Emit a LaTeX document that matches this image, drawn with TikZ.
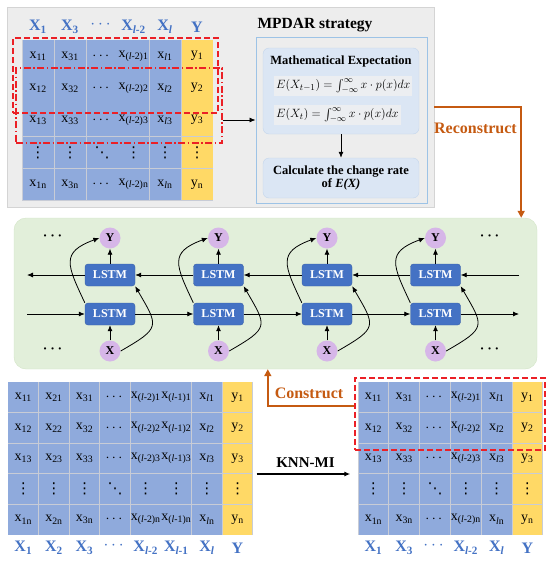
\documentclass[tikz,border=0pt]{standalone}
\usepackage{fontspec}
\setmainfont{Liberation Serif}
\newfontfamily\symfont{DejaVu Sans}
\usepackage{amsmath}
\usetikzlibrary{arrows.meta, positioning}
\definecolor{cellblue}{RGB}{143,170,220}
\definecolor{cellyellow}{RGB}{255,217,102}
\definecolor{headblue}{RGB}{68,114,196}
\definecolor{panelgray}{RGB}{237,237,237}
\definecolor{paneledge}{RGB}{212,212,212}
\definecolor{gridgray}{RGB}{200,204,214}
\definecolor{boxblue}{RGB}{157,195,230}
\definecolor{innerblue}{RGB}{219,230,244}
\definecolor{inneredge}{RGB}{196,214,236}
\definecolor{formbg}{RGB}{236,238,241}
\definecolor{lstmblue}{RGB}{68,114,196}
\definecolor{nodepurple}{RGB}{214,182,232}
\definecolor{greenfill}{RGB}{226,239,218}
\definecolor{greenedge}{RGB}{210,228,198}
\definecolor{orangeline}{RGB}{197,90,17}
\definecolor{markred}{RGB}{235,32,38}
\newcommand{\sub}[1]{\textsubscript{#1}}
\newcommand{\vdts}{{\symfont\fontsize{15}{16}\selectfont ⋮}}
\newcommand{\ddts}{{\symfont\fontsize{15}{16}\selectfont ⋱}}
\tikzset{
  cell/.style={inner sep=0, minimum width=31pt, minimum height=31.4pt,
    font=\fontsize{14}{16}\selectfont},
  lowcell/.style={minimum width=29.8pt, minimum height=29.8pt},
  xcell/.style={cell, fill=cellblue},
  ycell/.style={cell, fill=cellyellow},
  head/.style={text=headblue, font=\bfseries\fontsize{16}{18}\selectfont},
  blackarrow/.style={-{Latex[length=6pt,width=5pt]}, line width=0.8pt},
  orangearrow/.style={-{Triangle[length=7pt,width=7pt]}, line width=1.6pt, draw=orangeline},
  orangetext/.style={text=orangeline, font=\bfseries\fontsize{16}{18}\selectfont},
  redbox/.style={draw=markred, line width=1.3pt, inner sep=0},
  lstm/.style={fill=lstmblue, draw=lstmblue!85!black, rounded corners=3pt,
    minimum width=50pt, minimum height=22pt, inner sep=0,
    text=white, font=\bfseries\fontsize{12}{14}\selectfont},
  io/.style={circle, fill=nodepurple, minimum size=21pt, inner sep=0,
    font=\bfseries\fontsize{12}{14}\selectfont},
  dotsnode/.style={font=\fontsize{14}{16}\selectfont},
  innerbox/.style={fill=innerblue, draw=inneredge, rounded corners=6pt,
    minimum width=156pt, inner sep=0},
  formula/.style={fill=formbg, inner sep=2pt, anchor=west,
    font=\fontsize{12.5}{14}\selectfont}
}
\begin{document}
\begin{tikzpicture}[x=1pt, y=-1pt]
  \useasboundingbox (0,0) rectangle (550,562);

  % MPDAR panel
  \node[fill=panelgray, draw=paneledge, minimum width=427pt, minimum height=200pt,
    inner sep=0] (panel) at (220.5,107) {};
  \node[font=\bfseries\fontsize{15.5}{18}\selectfont] (mtitle) at (315,25) {MPDAR strategy};
  \node[draw=boxblue, line width=0.9pt, minimum width=171pt, minimum height=166pt,
    inner sep=0] (mpdar) at (341.5,120) {};
  \node[innerbox, minimum height=86pt] (expect) at (341,91) {};
  \node[font=\bfseries\fontsize{12.5}{14}\selectfont] (etitle) at (341,61) {Mathematical Expectation};
  \node[formula] (f1) at (274,86) {$E(X_{t-1}) = \int_{-\infty}^{\infty} x\cdot p(x)dx$};
  \node[formula] (f2) at (274,115) {$E(X_{t}) = \int_{-\infty}^{\infty} x\cdot p(x)dx$};
  \node[innerbox, minimum height=40pt, align=center,
    font=\bfseries\fontsize{12.5}{13.5}\selectfont] (rate) at (341,178)
    {Calculate the change rate\\of \textit{E(X)}};
  \draw[blackarrow] (expect) -- (rate);

  % top table
  \fill[gridgray] (22,40) rectangle (213,201);
  \node[head] (th1) at (38,27) {X\sub{1}};
  \node[head] (th2) at (70,27) {X\sub{3}};
  \node[head] (th3) at (102,25) {$\cdots$};
  \node[head] (th4) at (133.5,27) {X\sub{\textit{l}-2}};
  \node[head] (th5) at (165,27) {X\sub{\textit{l}}};
  \node[head] (th6) at (197,27) {Y};
  \foreach \r/\yy in {1/56,2/88,3/120,n/184.5}{
    \node[xcell] (t\r-1) at (38,\yy) {x\sub{1\r}};
    \node[xcell] (t\r-2) at (70,\yy) {x\sub{3\r}};
    \node[xcell] (t\r-3) at (102,\yy) {$\cdots$};
    \node[xcell] (t\r-4) at (133.5,\yy) {x\sub{(\textit{l}-2)\r}};
    \node[xcell] (t\r-5) at (165,\yy) {x\sub{\textit{l}\r}};
    \node[ycell] (t\r-6) at (197,\yy) {y\sub{\r}};
  }
  \foreach \c/\xx in {1/38,2/70,4/133.5,5/165}
    \node[xcell] (tv-\c) at (\xx,152.5) {\vdts};
  \node[xcell] (tv-3) at (102,152.5) {\ddts};
  \node[ycell] (tv-6) at (197,152.5) {\vdts};
  \node[redbox, dash pattern=on 6pt off 3pt, minimum width=205pt,
    minimum height=75pt] (tdash) at (115.5,75.5) {};
  \node[redbox, dash pattern=on 7pt off 2.5pt on 1.5pt off 2.5pt, minimum width=206pt,
    minimum height=75pt] (tdot) at (119,105.5) {};
  \draw[blackarrow] (tdot.east |- mpdar.west) -- (mpdar.west);

  % BiLSTM block
  \node[fill=greenfill, draw=greenedge, rounded corners=12pt, minimum width=523pt,
    minimum height=151pt, inner sep=0] (green) at (275.5,293.5) {};
  \draw[orangearrow] (panel.east) -| ([xshift=-16pt]green.north east);
  \node[orangetext] (rclabel) at (475.5,128) {Reconstruct};
  \coordinate (li) at (27,275);
  \coordinate (ri) at (519,275);
  \coordinate (lo) at (27,314);
  \coordinate (ro) at (519,314);
  \foreach \i/\xx in {1/110,2/218.5,3/327,4/435.5}{
    \node[lstm] (up\i) at (\xx,275) {LSTM};
    \node[lstm] (dn\i) at (\xx,314) {LSTM};
    \node[io] (y\i) at (\xx,238) {Y};
    \node[io] (x\i) at (\xx,351) {X};
    \draw[blackarrow] (x\i) -- (dn\i);
    \draw[blackarrow] (up\i) -- (y\i);
    \draw[blackarrow] (dn\i.north west) to[out=115, in=200, looseness=1.6] (y\i.west);
    \draw[blackarrow] (x\i.east) to[out=30, in=-60, looseness=1.8] (up\i.south east);
  }
  \draw[blackarrow] (lo) -- (dn1);
  \draw[blackarrow] (dn1) -- (dn2);
  \draw[blackarrow] (dn2) -- (dn3);
  \draw[blackarrow] (dn3) -- (dn4);
  \draw[blackarrow] (dn4) -- (ro);
  \draw[blackarrow] (ri) -- (up4);
  \draw[blackarrow] (up4) -- (up3);
  \draw[blackarrow] (up3) -- (up2);
  \draw[blackarrow] (up2) -- (up1);
  \draw[blackarrow] (up1) -- (li);
  \node[dotsnode] (d1) at (54,236) {$\boldsymbol{\cdots}$};
  \node[dotsnode] (d2) at (491,236) {$\boldsymbol{\cdots}$};
  \node[dotsnode] (d3) at (54,349) {$\boldsymbol{\cdots}$};
  \node[dotsnode] (d4) at (491,349) {$\boldsymbol{\cdots}$};

  % bottom left table
  \fill[gridgray] (8,382) rectangle (252.8,535);
  \foreach \r/\yy in {1/397.3,2/427.9,3/458.5,n/519.7}{
    \node[xcell, lowcell] (a\r-1) at (23.3,\yy) {x\sub{1\r}};
    \node[xcell, lowcell] (a\r-2) at (53.9,\yy) {x\sub{2\r}};
    \node[xcell, lowcell] (a\r-3) at (84.5,\yy) {x\sub{3\r}};
    \node[xcell, lowcell] (a\r-4) at (115.1,\yy) {$\cdots$};
    \node[xcell, lowcell] (a\r-5) at (145.7,\yy) {x\sub{(\textit{l}-2)\r}};
    \node[xcell, lowcell] (a\r-6) at (176.3,\yy) {x\sub{(\textit{l}-1)\r}};
    \node[xcell, lowcell] (a\r-7) at (206.9,\yy) {x\sub{\textit{l}\r}};
    \node[ycell, lowcell] (a\r-8) at (237.5,\yy) {y\sub{\r}};
  }
  \foreach \c/\xx in {1/23.3,2/53.9,3/84.5,5/145.7,6/176.3,7/206.9}
    \node[xcell, lowcell] (av-\c) at (\xx,489.1) {\vdts};
  \node[xcell, lowcell] (av-4) at (115.1,489.1) {\ddts};
  \node[ycell, lowcell] (av-8) at (237.5,489.1) {\vdts};
  \node[head] (ah1) at (23.3,548) {X\sub{1}};
  \node[head] (ah2) at (53.9,548) {X\sub{2}};
  \node[head] (ah3) at (84.5,548) {X\sub{3}};
  \node[head] (ah4) at (115.1,546) {$\cdots$};
  \node[head] (ah5) at (145.7,548) {X\sub{\textit{l}-2}};
  \node[head] (ah6) at (176.3,548) {X\sub{\textit{l}-1}};
  \node[head] (ah7) at (206.9,548) {X\sub{\textit{l}}};
  \node[head] (ah8) at (237.5,548) {Y};

  % bottom right table
  \fill[gridgray] (358,382) rectangle (542.8,535);
  \foreach \r/\yy in {1/397.3,2/427.9,3/458.5,n/519.7}{
    \node[xcell, lowcell] (b\r-1) at (373.4,\yy) {x\sub{1\r}};
    \node[xcell, lowcell] (b\r-2) at (404.2,\yy) {x\sub{3\r}};
    \node[xcell, lowcell] (b\r-3) at (435,\yy) {$\cdots$};
    \node[xcell, lowcell] (b\r-4) at (465.8,\yy) {x\sub{(\textit{l}-2)\r}};
    \node[xcell, lowcell] (b\r-5) at (496.6,\yy) {x\sub{\textit{l}\r}};
    \node[ycell, lowcell] (b\r-6) at (527.4,\yy) {y\sub{\r}};
  }
  \foreach \c/\xx in {1/373.4,2/404.2,4/465.8,5/496.6}
    \node[xcell, lowcell] (bv-\c) at (\xx,489.1) {\vdts};
  \node[xcell, lowcell] (bv-3) at (435,489.1) {\ddts};
  \node[ycell, lowcell] (bv-6) at (527.4,489.1) {\vdts};
  \node[head] (bh1) at (373.4,548) {X\sub{1}};
  \node[head] (bh2) at (404.2,548) {X\sub{3}};
  \node[head] (bh3) at (435,546) {$\cdots$};
  \node[head] (bh4) at (465.8,548) {X\sub{\textit{l}-2}};
  \node[head] (bh5) at (496.6,548) {X\sub{\textit{l}}};
  \node[head] (bh6) at (527.4,548) {Y};
  \node[redbox, dash pattern=on 6pt off 3pt, minimum width=190pt,
    minimum height=72pt] (rdash) at (450,414) {};

  % connectors between tables
  \draw[blackarrow, line width=1.2pt, shorten <=4pt, shorten >=8pt]
    (av-8.north east) -- node[above=3pt, font=\bfseries\fontsize{15}{17}\selectfont] (knn) {KNN-MI}
    (bv-1.north west);
  \draw[orangearrow] ([yshift=8pt]rdash.west) -| ([xshift=254pt]green.south west);
  \node[orangetext] (cnlabel) at (309,393) {Construct};
\end{tikzpicture}
\end{document}
